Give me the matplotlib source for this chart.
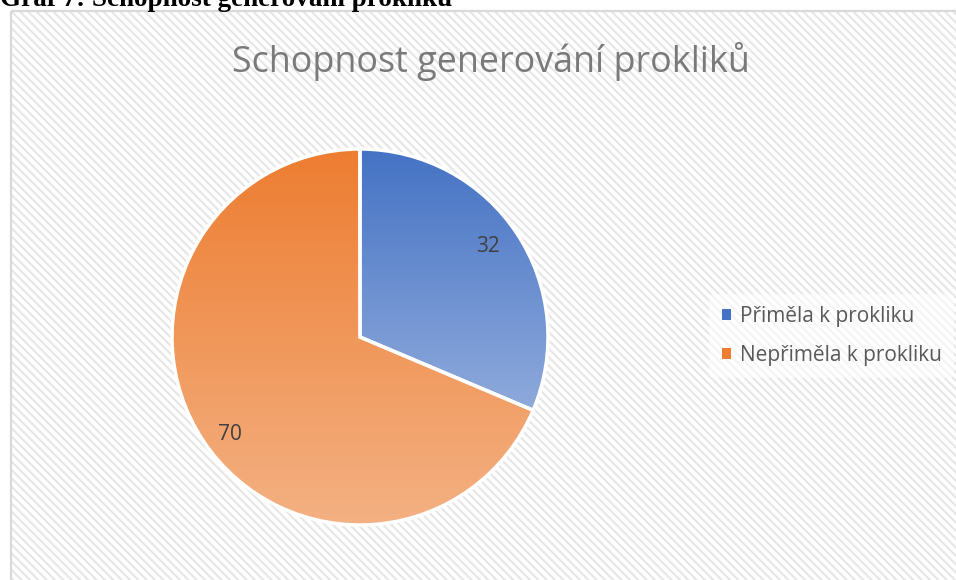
import numpy as np
import matplotlib.pyplot as plt
from matplotlib.colors import LinearSegmentedColormap
from matplotlib.patches import Rectangle, Patch

# Data
labels = ["Přiměla k prokliku", "Nepřiměla k prokliku"]
values = [32, 70]
top_colors = ["#4472C4", "#ED7D31"]
bottom_colors = ["#8FAADC", "#F4B183"]

title = "Schopnost generování prokliků"
caption = "Graf 7: Schopnost generování prokliku"

W, H = 956, 580
plt.rcParams["hatch.linewidth"] = 1.5
fig = plt.figure(figsize=(W / 100, H / 100), dpi=100)

# background axes in pixel coordinates
bg = fig.add_axes([0, 0, 1, 1])
bg.set_xlim(0, W)
bg.set_ylim(H, 0)
bg.axis("off")
bg.add_patch(Rectangle((11, 11), W, H, facecolor="white", edgecolor="#E6E6E6",
                       hatch="\\\\\\\\", lw=0, zorder=0))
bg.add_patch(Rectangle((11, 11), W, H, facecolor="none", edgecolor="#D9D9D9",
                       lw=1.6, zorder=1))
bg.text(0, 6, caption, fontsize=19.5, fontweight="bold", family="Liberation Serif",
        va="baseline", ha="left", color="black")
bg.text(491, 72, title, fontsize=25.8, family="Open Sans", color="#7A7A7A",
        va="baseline", ha="center")

# pie
cx, cy, R = 360, 337, 188
ax = fig.add_axes([(cx - R) / W, (H - cy - R) / H, 2 * R / W, 2 * R / H])
wedges, texts = ax.pie(values, startangle=90, counterclock=False, radius=1,
                       wedgeprops=dict(edgecolor="white", linewidth=2.5))
ax.set_aspect("equal")
ax.axis("off")

for w, c1, c2 in zip(wedges, top_colors, bottom_colors):
    ext = w.get_path().get_extents()
    cmap = LinearSegmentedColormap.from_list("g", [c1, c2])
    grad = np.linspace(0, 1, 256).reshape(-1, 1)
    im = ax.imshow(grad, cmap=cmap, aspect="auto", origin="upper",
                   extent=[ext.x0, ext.x1, ext.y0, ext.y1], zorder=0)
    im.set_clip_path(w)
    w.set_facecolor("none")
    w.set_zorder(2)

ax.set_xlim(-1, 1)
ax.set_ylim(-1, 1)

# data labels
label_pos = [(0.68, 0.48), (-0.69, -0.52)]
for v, (x, y) in zip(values, label_pos):
    ax.text(x, y, str(v), fontsize=15, family="Open Sans", color="#404040",
            ha="center", va="center", zorder=3)

handles = [Patch(facecolor=c, edgecolor="none") for c in top_colors]
leg = fig.legend(handles, labels, loc="center left", bbox_to_anchor=(699 / W, 1 - 336 / H),
                 frameon=True, handlelength=0.45, handleheight=0.45,
                 handletextpad=0.42, labelspacing=0.85, borderpad=0.6,
                 prop={"family": "Open Sans", "size": 15})
leg.get_frame().set_facecolor("white")
leg.get_frame().set_alpha(0.6)
leg.get_frame().set_edgecolor("none")
for t in leg.get_texts():
    t.set_color("#595959")

fig.savefig("out.png", dpi=100)
